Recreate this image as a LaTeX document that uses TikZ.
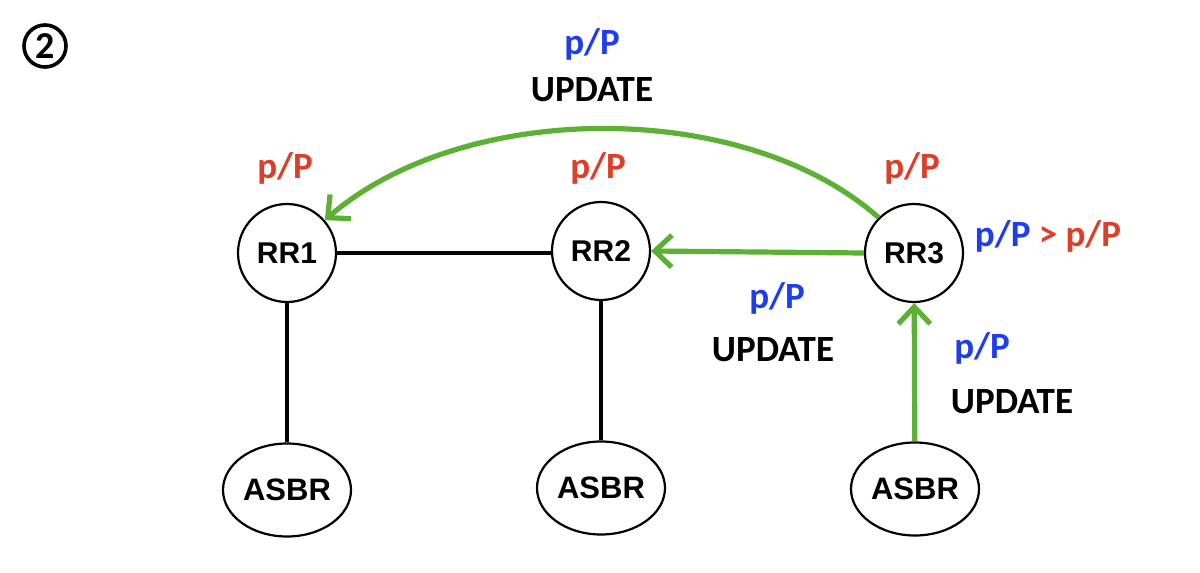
\documentclass[tikz,border=0pt]{standalone}
\usepackage{fontspec}
\setmainfont{Liberation Sans}
\newfontfamily\calibrifont{Carlito}
\usetikzlibrary{arrows.meta,shapes.geometric}
\definecolor{gr}{RGB}{92,176,52}
\definecolor{rd}{RGB}{222,62,40}
\definecolor{bl}{RGB}{30,60,240}
\tikzset{
  rr/.style={circle,draw,line width=1.1pt,minimum size=49pt,inner sep=0pt,font=\bfseries\fontsize{15pt}{17pt}\selectfont},
  asbr/.style={ellipse,draw,line width=1.1pt,minimum width=64pt,minimum height=46.5pt,inner sep=0pt,font=\bfseries\fontsize{15.5pt}{17pt}\selectfont},
  blk/.style={line width=2.2pt},
  garr/.style={gr,line width=2.6pt,-{Straight Barb[length=8.5pt,width=16pt,line width=2.6pt]}},
  lbl/.style={font=\calibrifont\bfseries\fontsize{18.5pt}{20pt}\selectfont,inner sep=0pt},
}
\begin{document}
\begin{tikzpicture}[x=0.5pt,y=-0.5pt]
\useasboundingbox (0,0) rectangle (1200,573);
% circled 2
\node[circle,draw,line width=1.8pt,minimum size=21pt,inner sep=0pt,font=\calibrifont\bfseries\fontsize{19pt}{20pt}\selectfont] (num) at (45,46) {2};
% nodes
\node[rr] (RR1) at (287,253) {RR1};
\node[rr] (RR2) at (601,251) {RR2};
\node[rr] (RR3) at (914,253) {RR3};
\node[asbr] (A1) at (287,490) {ASBR};
\node[asbr] (A2) at (601,488) {ASBR};
\node[asbr] (A3) at (915,489) {ASBR};
% black links
\draw[blk] (RR1.east) -- (RR2.west |- RR1.east);
\draw[blk] (RR1) -- (A1);
\draw[blk] (RR2) -- (A2);
% green updates
\draw[garr] (RR3.west) -- (RR2.east);
\draw[garr] (A3) -- (RR3);
\draw[garr] (RR3.135) .. controls (745,99) and (465,99) .. (RR1.41);
% labels
\node[lbl,text=rd] (l1) at (285,168) {p/P};
\node[lbl,text=rd] (l2) at (598,168) {p/P};
\node[lbl,text=rd] (l3) at (912,168) {p/P};
\node[lbl,text=bl] (t1) at (592,44) {p/P};
\node[lbl] (t2) at (592,90) {UPDATE};
\node[lbl] (cmp) at (1048,236) {\textcolor{bl}{p/P} \textcolor{rd}{> p/P}};
\node[lbl,text=bl] (m1) at (777,298) {p/P};
\node[lbl] (m2) at (773,350) {UPDATE};
\node[lbl,text=bl] (r1) at (982,348) {p/P};
\node[lbl] (r2) at (1012,402) {UPDATE};
\end{tikzpicture}
\end{document}
